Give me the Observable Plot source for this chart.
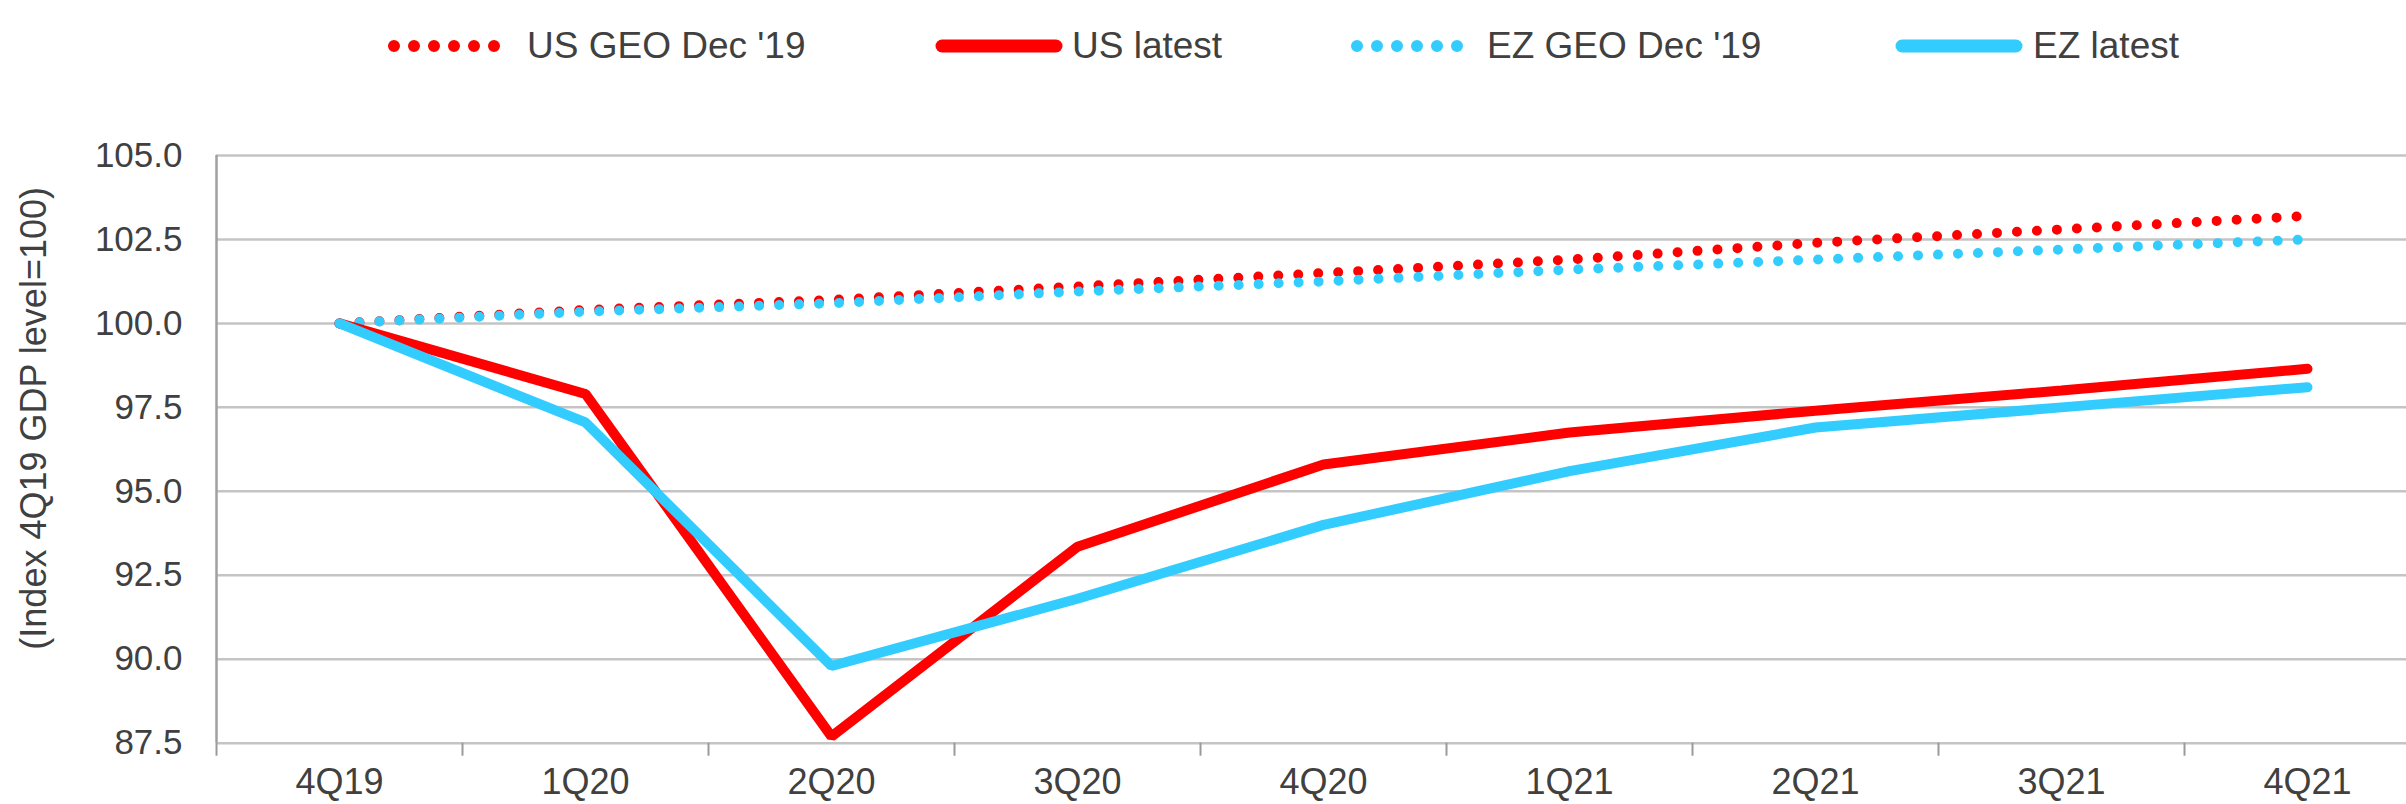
<!DOCTYPE html>
<html>
<head>
<meta charset="utf-8">
<script src="https://cdn.jsdelivr.net/npm/d3@7"></script>
<script src="https://cdn.jsdelivr.net/npm/@observablehq/plot@0.6"></script>
<style>
  html, body { margin: 0; padding: 0; background: #fff; }
  #wrap { position: relative; width: 2406px; height: 804px; overflow: hidden; }
  #legend { position: absolute; left: 0; top: 0; }
  #chart { position: absolute; left: 0; top: 0; }
</style>
</head>
<body>
<div id="wrap">
  <div id="chart"></div>
  <svg id="legend" width="2406" height="92" font-family="Liberation Sans, Arial, sans-serif" font-size="37" fill="#404040">
    <line x1="394" y1="46" x2="496" y2="46" stroke="#ff0000" stroke-width="12" stroke-linecap="round" stroke-dasharray="0 20"/>
    <text x="527" y="58">US GEO Dec '19</text>
    <line x1="942" y1="46" x2="1056" y2="46" stroke="#ff0000" stroke-width="13" stroke-linecap="round"/>
    <text x="1072" y="58">US latest</text>
    <line x1="1357" y1="46" x2="1459" y2="46" stroke="#33ccff" stroke-width="12" stroke-linecap="round" stroke-dasharray="0 20"/>
    <text x="1487" y="58">EZ GEO Dec '19</text>
    <line x1="1902" y1="46" x2="2016" y2="46" stroke="#33ccff" stroke-width="13" stroke-linecap="round"/>
    <text x="2033" y="58">EZ latest</text>
  </svg>
</div>
<script>
const quarters = ["4Q19", "1Q20", "2Q20", "3Q20", "4Q20", "1Q21", "2Q21", "3Q21", "4Q21"];
const usGeo    = [100, 100.4, 100.7, 101.1, 101.5, 101.9, 102.4, 102.8, 103.2];
const usLatest = [100, 97.9, 87.7, 93.35, 95.8, 96.75, 97.4, 98.0, 98.65];
const ezGeo    = [100, 100.35, 100.6, 100.95, 101.25, 101.6, 101.9, 102.2, 102.5];
const ezLatest = [100, 97.05, 89.8, 91.8, 94.0, 95.6, 96.9, 97.5, 98.1];
const yTicks   = [87.5, 90, 92.5, 95, 97.5, 100, 102.5, 105];
const yLabel   = "(Index 4Q19 GDP level=100)";

const idx = quarters.map((q, i) => i);
const edges = quarters.map((q, i) => i - 0.5).concat([quarters.length - 0.5]);

const RED = "#ff0000";
const BLUE = "#33ccff";

const series = (vals) => idx.map(i => ({i, v: vals[i]}));

const chart = Plot.plot({
  width: 2406,
  height: 804,
  marginLeft: 216,
  marginRight: 0,
  marginTop: 155,
  marginBottom: 61.3,
  x: {type: "linear", domain: [-0.5, 8.5], range: [216, 2430]},
  y: {domain: [87.5, 105], range: [742.7, 155]},
  style: {fontFamily: "Liberation Sans, Arial, sans-serif", color: "#404040", background: "white", overflow: "visible"},
  marks: [
    Plot.ruleY(yTicks, {stroke: "#c4c4c4", strokeWidth: 2.5}),
    Plot.axisY({ticks: yTicks, tickFormat: d3.format(".1f"), tickSize: 0, tickPadding: 34, fontSize: 35, label: null}),
    Plot.axisX({ticks: edges, tickSize: 13, tickFormat: () => "", stroke: "#9a9a9a", strokeWidth: 2, label: null}),
    Plot.axisX({ticks: idx, tickSize: 0, tickPadding: 25, tickFormat: i => quarters[i], fontSize: 36, label: null}),
    Plot.ruleX([-0.5], {stroke: "#a0a0a0", strokeWidth: 2.5}),
    Plot.line(series(usGeo), {x: "i", y: "v", stroke: RED, strokeWidth: 10, strokeLinecap: "round", strokeDasharray: "0 20"}),
    Plot.line(series(ezGeo), {x: "i", y: "v", stroke: BLUE, strokeWidth: 10, strokeLinecap: "round", strokeDasharray: "0 20"}),
    Plot.line(series(usLatest), {x: "i", y: "v", stroke: RED, strokeWidth: 10, strokeLinejoin: "miter", strokeLinecap: "round"}),
    Plot.line(series(ezLatest), {x: "i", y: "v", stroke: BLUE, strokeWidth: 10, strokeLinejoin: "miter", strokeLinecap: "round"}),
    Plot.text([yLabel], {frameAnchor: "left", rotate: -90, dx: -182, dy: -31, textAnchor: "middle", fontSize: 36, fill: "#404040"})
  ]
});
document.getElementById("chart").appendChild(chart);
</script>
</body>
</html>
